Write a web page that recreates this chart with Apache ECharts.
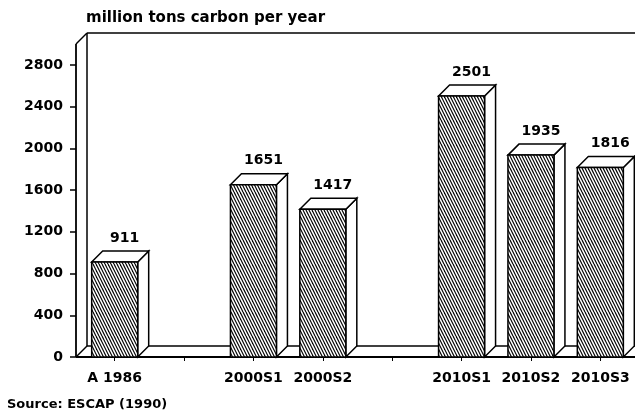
<!DOCTYPE html>
<html>
<head>
<meta charset="utf-8">
<script src="https://cdn.jsdelivr.net/npm/echarts@6/dist/echarts.min.js"></script>
<style>
  html, body { margin: 0; padding: 0; background: #fff; }
  #chart { width: 635px; height: 419px; }
</style>
</head>
<body>
<div id="chart"></div>
<script>
// Projected carbon emissions, million tons carbon per year
const categories = ['A 1986', '', '2000S1', '2000S2', '', '2010S1', '2010S2', '2010S3'];
const emissions = [911, null, 1651, 1417, null, 2501, 1935, 1816];
const yTicks = [0, 400, 800, 1200, 1600, 2000, 2400, 2800];

const FONT = '"DejaVu Sans", "Liberation Sans", Arial, sans-serif';
const DEPTH = 11;      // 3D depth offset in px
const BAR_W = 46;      // front face width in px
const INK = '#000';

// diagonal hatch tile for the bar fronts
function hatchTile() {
  const c = document.createElement('canvas');
  c.width = 12; c.height = 24;
  const g = c.getContext('2d');
  g.fillStyle = '#fff';
  g.fillRect(0, 0, 12, 24);
  g.strokeStyle = '#000';
  g.lineWidth = 1.2;
  for (let k = -8; k <= 8; k++) {
    g.beginPath();
    g.moveTo(k * 3, 0);
    g.lineTo(k * 3 + 12, 24);
    g.stroke();
  }
  return c;
}
const hatch = { image: hatchTile(), repeat: 'repeat' };

const chart = echarts.init(document.getElementById('chart'), null, { renderer: 'canvas' });

function line(x1, y1, x2, y2, w) {
  return { type: 'line', shape: { x1, y1, x2, y2 }, style: { stroke: INK, lineWidth: w || 1.5 } };
}

// box frame: back wall, floor and front axes
function renderFrame(params, api) {
  const cs = params.coordSys;
  const ax = cs.x - 4;
  const top = cs.y;
  const bot = cs.y + cs.height;
  const right = cs.x + cs.width;
  return {
    type: 'group',
    children: [
      line(ax + DEPTH, top - DEPTH, right, top - DEPTH),
      line(ax + DEPTH, top - DEPTH, ax + DEPTH, bot - DEPTH),
      line(ax + DEPTH, bot - DEPTH, right, bot - DEPTH),
      line(ax, top, ax + DEPTH, top - DEPTH),
      line(ax, bot, ax + DEPTH, bot - DEPTH),
      line(ax, top, ax, bot, 1.8),
      line(ax, bot, right, bot, 2)
    ]
  };
}

function renderBar(params, api) {
  const v = api.value(1);
  if (v == null || isNaN(v)) return null;
  const i = api.value(0);
  const base = api.coord([i, 0]);
  const head = api.coord([i, v]);
  const xl = base[0] - BAR_W / 2;
  const xr = base[0] + BAR_W / 2;
  const yt = head[1];
  const yb = base[1];
  const d = DEPTH;
  const edge = { stroke: INK, lineWidth: 1.5, lineJoin: 'miter' };
  return {
    type: 'group',
    children: [
      {
        type: 'polygon',
        shape: { points: [[xr, yt], [xr + d, yt - d], [xr + d, yb - d], [xr, yb]] },
        style: Object.assign({ fill: '#fff' }, edge)
      },
      {
        type: 'polygon',
        shape: { points: [[xl, yt], [xl + d, yt - d], [xr + d, yt - d], [xr, yt]] },
        style: Object.assign({ fill: '#fff' }, edge)
      },
      {
        type: 'rect',
        shape: { x: xl, y: yt, width: BAR_W, height: yb - yt },
        style: Object.assign({ fill: hatch }, edge)
      },
      {
        type: 'text',
        style: {
          text: String(v),
          x: base[0] + 10,
          y: yt - d - 13,
          align: 'center',
          verticalAlign: 'middle',
          fontSize: 14,
          fontWeight: 'bold',
          fontFamily: FONT,
          fill: INK
        }
      }
    ]
  };
}

chart.setOption({
  animation: false,
  backgroundColor: '#fff',
  title: [
    {
      text: 'million tons carbon per year',
      left: 86, top: 11, padding: 0,
      textStyle: { fontSize: 15, fontWeight: 'bold', fontFamily: FONT, color: INK }
    },
    {
      text: 'Source: ESCAP (1990)',
      left: 7, top: 398, padding: 0,
      textStyle: { fontSize: 13, fontWeight: 'bold', fontFamily: FONT, color: INK }
    }
  ],
  grid: { left: 80, top: 44, width: 556, height: 313, containLabel: false },
  xAxis: {
    type: 'category',
    data: categories,
    axisLine: { show: false },
    axisTick: { show: true, alignWithLabel: true, length: 4, lineStyle: { color: INK, width: 1 } },
    axisLabel: {
      margin: 14, color: INK, fontSize: 14, fontWeight: 'bold', fontFamily: FONT, interval: 0
    }
  },
  yAxis: {
    type: 'value',
    min: 0, max: 3000,
    offset: 4,
    splitLine: { show: false },
    axisLine: { show: false },
    axisTick: { show: true, length: 6, customValues: yTicks, lineStyle: { color: INK, width: 1.5 } },
    axisLabel: {
      customValues: yTicks,
      formatter: (v) => String(v),
      margin: 13, color: INK, fontSize: 14, fontWeight: 'bold', fontFamily: FONT
    }
  },
  series: [
    {
      type: 'custom',
      renderItem: renderFrame,
      data: [[0, 0]],
      silent: true,
      z: 1
    },
    {
      type: 'custom',
      renderItem: renderBar,
      data: emissions.map((v, i) => [i, v]),
      encode: { x: 0, y: 1 },
      silent: true,
      z: 2
    }
  ]
});
</script>
</body>
</html>
